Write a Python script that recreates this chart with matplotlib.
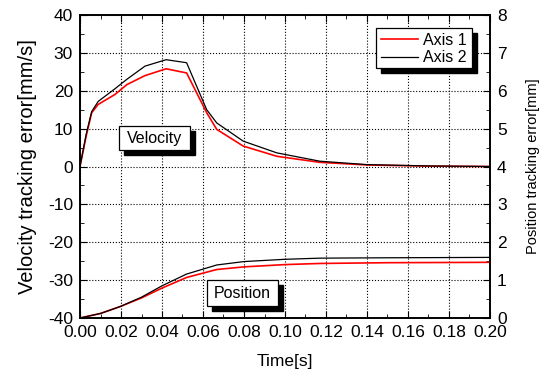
import matplotlib
matplotlib.use("Agg")
from matplotlib import pyplot as plt
from matplotlib.ticker import MultipleLocator
from matplotlib.patches import Rectangle

plt.rcParams['font.family'] = ['Liberation Sans', 'DejaVu Sans']
plt.rcParams['axes.unicode_minus'] = False

# velocity tracking error [mm/s]
t_vel = [0.0, 0.003, 0.0057, 0.0089, 0.017, 0.0228, 0.0317, 0.042, 0.052, 0.0618,
         0.0667, 0.0796, 0.096, 0.117, 0.14, 0.17, 0.20]
vel_1 = [0.0, 8.0, 14.2, 16.4, 19.0, 21.6, 24.0, 25.8, 24.7, 14.2,
         9.8, 5.4, 2.7, 1.1, 0.4, 0.1, 0.0]
vel_2 = [0.0, 8.5, 14.5, 17.2, 20.5, 23.0, 26.5, 28.2, 27.4, 15.0,
         11.5, 6.7, 3.6, 1.4, 0.5, 0.15, 0.0]

# position tracking error [mm]
t_pos = [0.0, 0.01, 0.0195, 0.03, 0.04, 0.052, 0.0667, 0.08, 0.10, 0.117, 0.15, 0.20]
pos_1 = [0.0, 0.12, 0.30, 0.53, 0.79, 1.07, 1.28, 1.35, 1.41, 1.44, 1.46, 1.47]
pos_2 = [0.0, 0.12, 0.30, 0.55, 0.85, 1.16, 1.40, 1.49, 1.55, 1.58, 1.59, 1.60]

W, H = 547, 380
fig = plt.figure(figsize=(5.47, 3.8), dpi=100)
ax = fig.add_axes([80 / W, 1 - 318 / H, 410 / W, 303 / H])
ax2 = ax.twinx()

ax.plot(t_vel, vel_1, color='red', lw=1.2)
ax.plot(t_vel, vel_2, color='black', lw=0.9)
ax2.plot(t_pos, pos_1, color='red', lw=1.2, label='Axis 1')
ax2.plot(t_pos, pos_2, color='black', lw=0.9, label='Axis 2')

ax.set_xlim(0, 0.2)
ax.set_ylim(-40, 40)
ax2.set_ylim(0, 8)
ax.xaxis.set_major_locator(MultipleLocator(0.02))
ax.xaxis.set_minor_locator(MultipleLocator(0.01))
ax.yaxis.set_major_locator(MultipleLocator(10))
ax.yaxis.set_minor_locator(MultipleLocator(5))
ax2.yaxis.set_major_locator(MultipleLocator(1))
ax2.yaxis.set_minor_locator(MultipleLocator(0.5))
ax.xaxis.set_major_formatter(plt.FormatStrFormatter('%.2f'))

ax.grid(True, which='major', color='black', ls=':', lw=0.8)
ax.tick_params(which='both', direction='in', top=True, labelsize=12.5, pad=5)
ax.tick_params(which='major', length=5)
ax.tick_params(which='minor', length=3)
ax2.tick_params(which='both', direction='in', labelsize=12.5, pad=5)
ax2.tick_params(which='major', length=5)
ax2.tick_params(which='minor', length=3)
for a in (ax, ax2):
    for s in a.spines.values():
        s.set_linewidth(1.2)

ax.set_xlabel('Time[s]', fontsize=12.5, labelpad=10)
ax.set_ylabel('Velocity tracking error[mm/s]', fontsize=14.5, labelpad=8)
ax2.set_ylabel('Position tracking error[mm]', fontsize=10.5, labelpad=14)


# shadowed text boxes, coordinates in figure pixels from top-left
def shadow_box(x0, y0, x1, y1, text=None):
    ax2.add_patch(Rectangle(((x0 + 5) / W, 1 - (y1 + 5) / H), (x1 - x0) / W, (y1 - y0) / H,
                            transform=fig.transFigure, facecolor='black', edgecolor='black',
                            zorder=5, clip_on=False))
    ax2.add_patch(Rectangle((x0 / W, 1 - y1 / H), (x1 - x0) / W, (y1 - y0) / H,
                            transform=fig.transFigure, facecolor='white', edgecolor='black',
                            lw=0.9, zorder=6, clip_on=False))
    if text:
        ax2.text((x0 + x1) / 2 / W, 1 - (y0 + y1) / 2 / H, text, ha='center', va='center',
                 fontsize=11.5, zorder=7, transform=fig.transFigure)


shadow_box(119, 126, 190, 150, 'Velocity')
shadow_box(207, 280, 278, 306, 'Position')
shadow_box(376, 28, 472, 68)

leg = ax2.legend(loc='center', bbox_to_anchor=(424 / W, 1 - 49 / H),
                 bbox_transform=fig.transFigure, frameon=False, fontsize=11.5,
                 handlelength=2.3, handletextpad=0.35, borderpad=0.0,
                 labelspacing=0.15, borderaxespad=0)
leg.set_zorder(10)

fig.savefig('out.png', dpi=100)
